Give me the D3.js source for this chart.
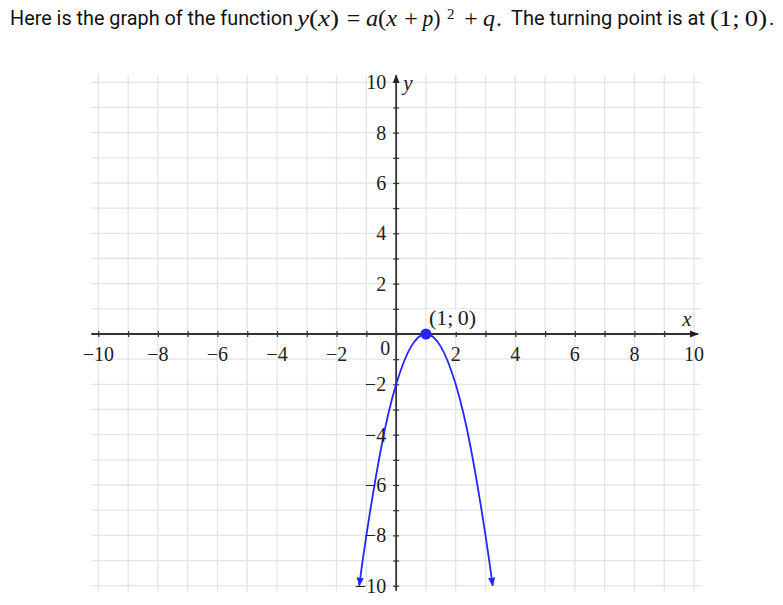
<!DOCTYPE html>
<html><head><meta charset="utf-8">
<script src="https://cdn.jsdelivr.net/npm/d3@7"></script>
<style>html,body{margin:0;padding:0;background:#fff;}svg{display:block;}</style>
</head><body>
<script>
// ---- data ----
const gridValues = d3.range(-10, 11);                 // unit grid
const xTickLabels = [-10, -8, -6, -4, -2, 2, 4, 6, 8, 10];
const yTickLabels = [-10, -8, -6, -4, -2, 2, 4, 6, 8, 10];
const curveX = [-1.24, -1, -0.5, 0, 0.5, 1, 1.5, 2, 2.5, 3, 3.24];
const curveY = [-10, -8, -4.5, -2, -0.5, 0, -0.5, -2, -4.5, -8, -10];
const vertex = [1, 0];
const vertexLabel = "(1;\u20090)";
const titleSans1 = "Here is the graph of the function";
const titleSans2 = "The turning point is at";

const W = 783, H = 605;
const svg = d3.select("body").append("svg").attr("width", W).attr("height", H);
const x = d3.scaleLinear().domain([-10, 10]).range([98.3, 694]);
const y = d3.scaleLinear().domain([-10, 10]).range([585.7, 82.3]);
const serif = "'Liberation Serif', 'Times New Roman', serif";
const sans = "Roboto, sans-serif";
const blue = "#2525ff";
const ink = "#222";

// ---- title (text groups placed along the line) ----
const tg = svg.append("g").attr("fill", "#111");
const base = 25.5;
// segs: [text, italic]
function group(segs, px, opts = {}) {
  const el = tg.append("text").attr("x", px).attr("y", base + (opts.dy || 0))
    .attr("font-family", opts.sans ? sans : serif)
    .attr("font-size", opts.size || 24)
    .attr("text-anchor", opts.anchor || "start");
  segs.forEach(([t, it]) => {
    const ts = el.append("tspan").text(t);
    if (it) ts.attr("font-style", "italic");
  });
  if (opts.len) el.attr("textLength", opts.len).attr("lengthAdjust", "spacingAndGlyphs");
  return el;
}
group([[titleSans1]], 10, { sans: true, size: 20, len: 283, dy: -0.5 });
group([["y", 1], ["("], ["x", 1], [")"]], 297, { len: 42 });
group([["="]], 353.5, { anchor: "middle" });
group([["a", 1], ["("], ["x", 1]], 366, { len: 31 });
group([["+"]], 411, { anchor: "middle" });
group([["p", 1], [")"]], 422.5, { len: 18 });
group([["2"]], 447, { size: 15, dy: -6.5 });
group([["+"]], 471, { anchor: "middle" });
group([["q", 1]], 483);
group([["."]], 496);
group([[titleSans2]], 511, { sans: true, size: 20, len: 194, dy: -0.5 });
group([["(1;\u20090)"]], 710, { len: 57 });
group([["."]], 769, { sans: true, size: 20, dy: -0.5 });

// ---- grid ----
const grid = svg.append("g").attr("stroke", "#e4e4e4").attr("stroke-width", 1.3);
grid.selectAll(".v").data(gridValues).join("line")
  .attr("x1", d => x(d)).attr("x2", d => x(d)).attr("y1", y(10) - 7).attr("y2", y(-10) + 6);
grid.selectAll(".h").data(gridValues).join("line")
  .attr("y1", d => y(d)).attr("y2", d => y(d)).attr("x1", x(-10) - 7).attr("x2", x(10) + 7);

// ---- arrow markers ----
const defs = svg.append("defs");
defs.append("marker").attr("id", "axArrow").attr("viewBox", "0 0 10 10").attr("refX", 9).attr("refY", 5)
  .attr("markerWidth", 5).attr("markerHeight", 5).attr("markerUnits", "strokeWidth").attr("orient", "auto")
  .append("path").attr("d", "M0,1 L10,5 L0,9 z").attr("fill", "#222");
defs.append("marker").attr("id", "cvArrow").attr("viewBox", "0 0 10 10").attr("refX", 9).attr("refY", 5)
  .attr("markerWidth", 5).attr("markerHeight", 5).attr("markerUnits", "strokeWidth").attr("orient", "auto-start-reverse")
  .append("path").attr("d", "M0,1 L10,5 L0,9 z").attr("fill", blue);

// ---- axes lines ----
svg.append("line").attr("x1", x(-10) - 7).attr("x2", x(10) + 4).attr("y1", y(0)).attr("y2", y(0))
  .attr("stroke", "#333").attr("stroke-width", 1.8).attr("marker-end", "url(#axArrow)");
svg.append("line").attr("x1", x(0)).attr("x2", x(0)).attr("y1", y(-10) + 5).attr("y2", y(10) - 7)
  .attr("stroke", "#333").attr("stroke-width", 1.8).attr("marker-end", "url(#axArrow)");

// ---- ticks via d3 axes ----
const xAxis = d3.axisBottom(x).tickValues(gridValues.filter(v => v !== 10)).tickSize(6).tickFormat("");
const gx = svg.append("g").attr("transform", `translate(0,${y(0) - 3})`).call(xAxis);
const yAxis = d3.axisLeft(y).tickValues(gridValues.filter(v => v !== 10)).tickSize(6).tickFormat("");
const gy = svg.append("g").attr("transform", `translate(${x(0) + 3},0)`).call(yAxis);
[gx, gy].forEach(g => { g.select(".domain").remove(); g.selectAll("line").attr("stroke", "#333").attr("stroke-width", 1.2); });

// ---- curve ----
const pts = curveX.map((v, i) => [v, curveY[i]]);
svg.append("path").datum(pts)
  .attr("d", d3.line().x(d => x(d[0])).y(d => y(d[1])).curve(d3.curveNatural))
  .attr("fill", "none").attr("stroke", blue).attr("stroke-width", 1.8)
  .attr("marker-start", "url(#cvArrow)").attr("marker-end", "url(#cvArrow)");

// ---- tick labels ----
const fmt = v => v < 0 ? "\u2212" + Math.abs(v) : String(v);
svg.append("g").selectAll("text").data(xTickLabels).join("text")
  .attr("x", d => x(d)).attr("y", y(0) + 27).attr("text-anchor", "middle")
  .attr("font-family", serif).attr("font-size", 20).attr("fill", ink).text(fmt);
svg.append("g").selectAll("text").data(yTickLabels).join("text")
  .attr("x", x(0) - 10).attr("y", d => y(d)).attr("dy", "0.35em").attr("text-anchor", "end")
  .attr("font-family", serif).attr("font-size", 20).attr("fill", ink).text(fmt);
svg.append("text").attr("x", x(0) - 11).attr("y", y(0) + 21).attr("text-anchor", "middle")
  .attr("font-family", serif).attr("font-size", 20).attr("fill", ink).text("0");

// ---- axis names ----
svg.append("text").attr("x", x(10) - 7).attr("y", y(0) - 8).attr("text-anchor", "middle")
  .attr("font-family", serif).attr("font-style", "italic").attr("font-size", 21).attr("fill", ink).text("x");
svg.append("text").attr("x", x(0) + 7).attr("y", y(10) + 8)
  .attr("font-family", serif).attr("font-style", "italic").attr("font-size", 21).attr("fill", ink).text("y");

// ---- vertex ----
const lbl = svg.append("g");
lbl.append("rect").attr("x", x(vertex[0]) + 2).attr("y", y(vertex[1]) - 25).attr("width", 54).attr("height", 23)
  .attr("fill", "#fff").attr("opacity", 0.85);
lbl.append("text").attr("x", x(vertex[0]) + 3).attr("y", y(vertex[1]) - 9)
  .attr("font-family", serif).attr("font-size", 22).attr("fill", ink).text(vertexLabel);
svg.append("circle").attr("cx", x(vertex[0])).attr("cy", y(vertex[1])).attr("r", 5.5).attr("fill", blue);
</script>
</body></html>
